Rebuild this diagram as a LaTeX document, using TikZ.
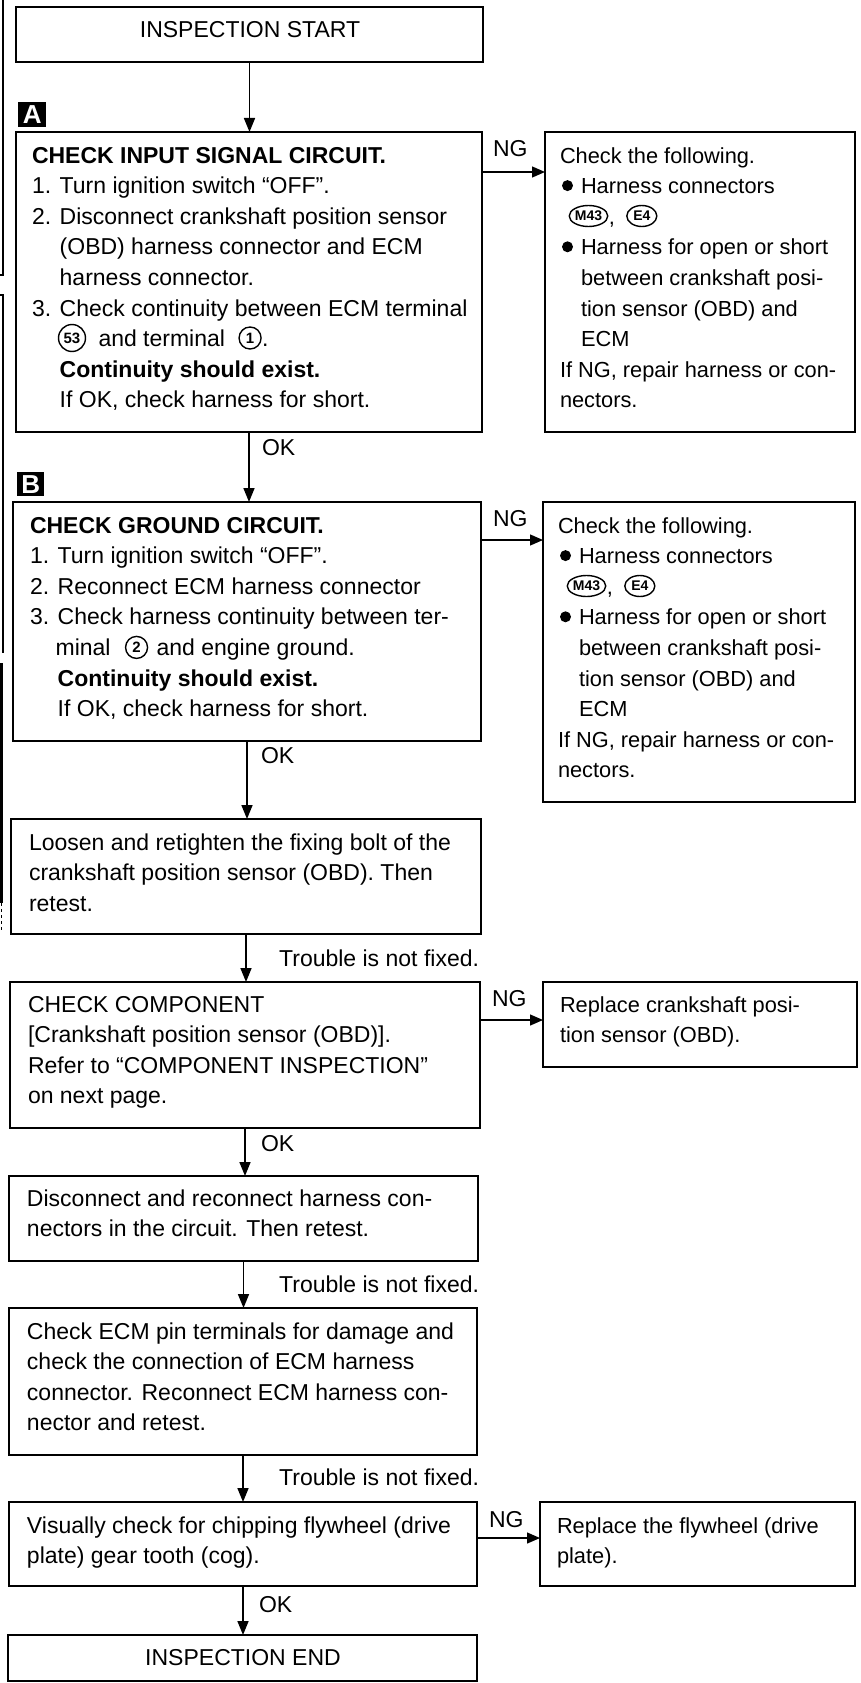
\documentclass[tikz,border=0pt]{standalone}
\usepackage{fontspec}
\setmainfont{Liberation Sans}
\usetikzlibrary{arrows.meta,shapes.geometric,calc}
\newcommand{\fl}{\rule{0pt}{17pt}}
\newcommand{\ind}{\hspace{21pt}}
\newcommand{\nind}{\phantom{2. }}
\begin{document}
\begin{tikzpicture}[x=1pt,y=-1pt,
  box/.style={draw,line width=1.6pt,inner sep=0pt,outer sep=0pt,anchor=north west},
  txt/.style={anchor=north west,inner sep=0pt,outer sep=0pt,align=left,font=\fontsize{23}{30.6}\selectfont},
  rtxt/.style={txt,font=\fontsize{21.8}{30.6}\selectfont},
  lbl/.style={inner sep=0pt,outer sep=0pt,font=\fontsize{23}{30.6}\selectfont},
  rlbl/.style={lbl,font=\fontsize{21.8}{30.6}\selectfont},
  circ/.style={draw,circle,line width=1.4pt,inner sep=0pt,outer sep=0pt,font=\fontsize{15}{15}\selectfont\bfseries},
  oval/.style={draw,ellipse,line width=1.4pt,inner sep=0pt,outer sep=0pt,minimum height=21pt,font=\fontsize{14}{14}\selectfont\bfseries},
  dot/.style={circle,fill=black,inner sep=0pt,outer sep=0pt,minimum size=11pt},
  markbox/.style={fill=black,text=white,inner sep=0pt,anchor=north west,font=\fontsize{26}{26}\selectfont\bfseries},
  arr/.style={line width=1.6pt,-{Triangle[length=14pt,width=11pt]}},
  ngarr/.style={line width=1.3pt,-{Triangle[length=13pt,width=11pt]}},
  scan/.style={line width=1.4pt},
  scanb/.style={line width=2.6pt}]
\useasboundingbox (0,0) rectangle (861,1683);
% scan edge lines
\draw[scan] (3,0) -- (3,275) -- (0,275);
\draw[scan] (0,295) -- (3,295) -- (3,653);
\draw[scanb] (1.3,663) -- (1.3,903);
\draw[scan,dashed] (1.3,903) -- (1.3,930);
% boxes
\node[box,minimum width=467pt,minimum height=55pt] (start) at (16,7) {};
\node[box,minimum width=466pt,minimum height=300pt] (a) at (16,132) {};
\node[box,minimum width=310pt,minimum height=300pt] (r1) at (545,132) {};
\node[box,minimum width=468pt,minimum height=239pt] (b) at (13,502) {};
\node[box,minimum width=312pt,minimum height=300pt] (r2) at (543,502) {};
\node[box,minimum width=470pt,minimum height=115pt] (loosen) at (11,819) {};
\node[box,minimum width=470pt,minimum height=146pt] (comp) at (10,982) {};
\node[box,minimum width=314pt,minimum height=85pt] (r3) at (543,982) {};
\node[box,minimum width=469pt,minimum height=85pt] (disc) at (9,1176) {};
\node[box,minimum width=468pt,minimum height=147pt] (ecm) at (9,1308) {};
\node[box,minimum width=468pt,minimum height=84pt] (vis) at (9,1502) {};
\node[box,minimum width=315pt,minimum height=84pt] (r4) at (540,1502) {};
\node[box,minimum width=469pt,minimum height=46pt] (end) at (8,1635) {};
% markers
\node[markbox,minimum width=28pt,minimum height=25pt] (ma) at (18,102) {A};
\node[markbox,minimum width=27pt,minimum height=24pt] (mb) at (17,472) {B};
% texts
\node[lbl,anchor=base] (tstart) at (250,38) {INSPECTION START};
\node[txt] (ta) at (32,146) {\fl\textbf{CHECK INPUT SIGNAL CIRCUIT.}\\
1. Turn ignition switch “OFF”.\\
2. Disconnect crankshaft position sensor\\
\nind(OBD) harness connector and ECM\\
\nind harness connector.\\
3. Check continuity between ECM terminal\\
\fl\\
\nind\textbf{Continuity should exist.}\\
\nind If OK, check harness for short.};
% line with circled terminals (box A)
\coordinate (ya) at (0,346.6);
\coordinate (yca) at (0,338);
\node[circ,minimum size=27pt] (c53) at (72,338) {53};
\coordinate (c53r) at ([xshift=13pt]c53.east);
\node[lbl,anchor=base west] (t7a) at (c53r |- ya) {and terminal};
\coordinate (t7ar) at ([xshift=14pt]t7a.east);
\node[circ,minimum size=22pt,anchor=west] (c1) at (t7ar |- yca) {1};
\coordinate (c1r) at ([xshift=1pt]c1.east);
\node[lbl,anchor=base west] (t7b) at (c1r |- ya) {.};
% right box 1
\node[rtxt] (tr1) at (560,146) {\fl Check the following.\\
\ind Harness connectors\\
\fl\\
\ind Harness for open or short\\
\ind between crankshaft posi-\\
\ind tion sensor (OBD) and\\
\ind ECM\\
If NG, repair harness or con-\\
nectors.};
\node[dot] (d1a) at (567.5,185.6) {};
\node[dot] (d1b) at (567.5,246.8) {};
\coordinate (yr1) at (0,224.2);
\coordinate (yor1) at (0,216);
\node[oval,minimum width=35pt] (m43a) at (588.5,216) {M43};
\coordinate (m43ar) at ([xshift=1pt]m43a.east);
\node[rlbl,anchor=base west] (cma) at (m43ar |- yr1) {,};
\coordinate (cmar) at ([xshift=12pt]cma.east);
\node[oval,minimum width=30pt,anchor=west] (e4a) at (cmar |- yor1) {E4};
% box B
\node[txt] (tb) at (30,516) {\fl\textbf{CHECK GROUND CIRCUIT.}\\
1. Turn ignition switch “OFF”.\\
2. Reconnect ECM harness connector\\
3. Check harness continuity between ter-\\
\fl\\
\nind\textbf{Continuity should exist.}\\
\nind If OK, check harness for short.};
\coordinate (yb) at (0,655.4);
\coordinate (ycb) at (0,647.4);
\node[lbl,anchor=base west] (t5b) at (55.6,655.4) {minal};
\coordinate (t5br) at ([xshift=15pt]t5b.east);
\node[circ,minimum size=22pt,anchor=west] (c2) at (t5br |- ycb) {2};
\coordinate (c2r) at ([xshift=9pt]c2.east);
\node[lbl,anchor=base west] (t5c) at (c2r |- yb) {and engine ground.};
% right box 2
\node[rtxt] (tr2) at (558,516) {\fl Check the following.\\
\ind Harness connectors\\
\fl\\
\ind Harness for open or short\\
\ind between crankshaft posi-\\
\ind tion sensor (OBD) and\\
\ind ECM\\
If NG, repair harness or con-\\
nectors.};
\node[dot] (d2a) at (565.5,555.6) {};
\node[dot] (d2b) at (565.5,616.8) {};
\coordinate (yr2) at (0,594.2);
\coordinate (yor2) at (0,586);
\node[oval,minimum width=35pt] (m43b) at (586.5,586) {M43};
\coordinate (m43br) at ([xshift=1pt]m43b.east);
\node[rlbl,anchor=base west] (cmb) at (m43br |- yr2) {,};
\coordinate (cmbr) at ([xshift=12pt]cmb.east);
\node[oval,minimum width=30pt,anchor=west] (e4b) at (cmbr |- yor2) {E4};
% lower boxes
\node[txt] (tloosen) at (29,833) {\fl Loosen and retighten the fixing bolt of the\\
crankshaft position sensor (OBD). Then\\
retest.};
\node[txt] (tcomp) at (28,995) {\fl CHECK COMPONENT\\
{[}Crankshaft position sensor (OBD)].\\
Refer to “COMPONENT INSPECTION”\\
on next page.};
\node[rtxt] (tr3) at (560,995) {\fl Replace crankshaft posi-\\
tion sensor (OBD).};
\node[txt] (tdisc) at (27,1189) {\fl Disconnect and reconnect harness con-\\
nectors in the circuit. Then retest.};
\node[txt] (tecm) at (27,1322) {\fl Check ECM pin terminals for damage and\\
check the connection of ECM harness\\
connector. Reconnect ECM harness con-\\
nector and retest.};
\node[txt] (tvis) at (27,1516) {\fl Visually check for chipping flywheel (drive\\
plate) gear tooth (cog).};
\node[rtxt] (tr4) at (557,1516) {\fl Replace the flywheel (drive\\
plate).};
\node[lbl,anchor=base] (tend) at (243,1665) {INSPECTION END};
% vertical connectors
\draw[arr] (start.south) -- (start.south |- a.north);
\draw[arr] (a.south) -- (a.south |- b.north);
\draw[arr] (b.south) -- (b.south |- loosen.north);
\draw[arr] (loosen.south) -- (loosen.south |- comp.north);
\draw[arr] (comp.south) -- (comp.south |- disc.north);
\draw[arr] (disc.south) -- (disc.south |- ecm.north);
\draw[arr] (ecm.south) -- (ecm.south |- vis.north);
\draw[arr] (vis.south) -- (vis.south |- end.north);
% NG connectors
\coordinate (nga) at ($(a.north east)+(0,40)$);
\coordinate (ngb) at ($(b.north east)+(0,38)$);
\coordinate (ngc) at ($(comp.north east)+(0,38)$);
\coordinate (ngv) at ($(vis.north east)+(0,36)$);
\draw[ngarr] (nga) -- (nga -| r1.west);
\draw[ngarr] (ngb) -- (ngb -| r2.west);
\draw[ngarr] (ngc) -- (ngc -| r3.west);
\draw[ngarr] (ngv) -- (ngv -| r4.west);
% labels
\node[lbl,anchor=base west] (ngla) at (493,156) {NG};
\node[lbl,anchor=base west] (okla) at (262,455) {OK};
\node[lbl,anchor=base west] (nglb) at (493,526) {NG};
\node[lbl,anchor=base west] (oklb) at (261,763) {OK};
\node[lbl,anchor=base east] (tr1l) at (479,966) {Trouble is not fixed.};
\node[lbl,anchor=base west] (nglc) at (492,1006) {NG};
\node[lbl,anchor=base west] (oklc) at (261,1151) {OK};
\node[lbl,anchor=base east] (tr2l) at (479,1292) {Trouble is not fixed.};
\node[lbl,anchor=base east] (tr3l) at (479,1485) {Trouble is not fixed.};
\node[lbl,anchor=base west] (nglv) at (489,1527) {NG};
\node[lbl,anchor=base west] (oklv) at (259,1612) {OK};
\end{tikzpicture}
\end{document}
